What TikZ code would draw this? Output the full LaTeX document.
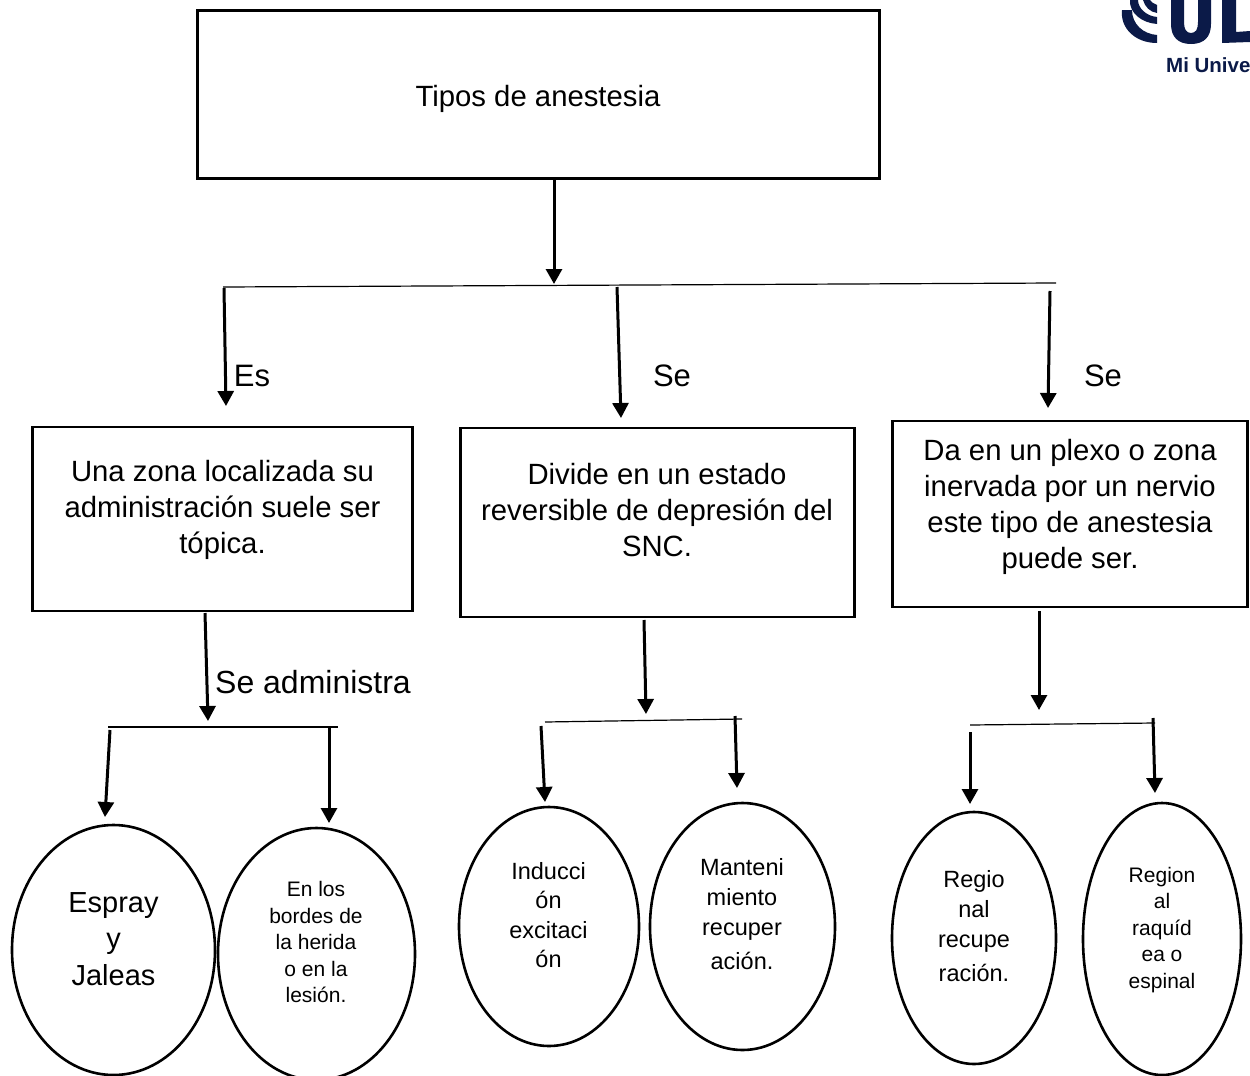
\documentclass[tikz,border=0pt]{standalone}
\usepackage{fontspec}
\setmainfont{Liberation Sans}
\usetikzlibrary{shapes.geometric,arrows.meta}
\definecolor{navy}{HTML}{0B1A48}
\newcommand{\fsz}[2]{\fontsize{#1pt}{#2pt}\selectfont}
\tikzset{
 x=1pt,y=-1pt,
 boxn/.style={draw=black,line width=2.2pt,rectangle,inner sep=0pt},
 ell/.style={draw=black,line width=2.6pt,ellipse,inner sep=0pt,outer sep=0pt},
 lab/.style={inner sep=0pt,align=center,text=black},
 arr/.style={draw=black,line width=3pt,-{Triangle[length=15pt,width=16pt]},shorten >=0pt},
 bar/.style={draw=black,line width=1.2pt},
}
\begin{document}
\begin{tikzpicture}
\useasboundingbox (0,0) rectangle (1250,1076);
\clip (0,0) rectangle (1250,1076);
% logo
\begin{scope}[navy]
\fill (1122,10) .. controls (1120,28) and (1135,43) .. (1157,43) -- (1157,35) .. controls (1143,34) and (1132,24) .. (1132,10) -- cycle;
\fill (1130,0) .. controls (1129,13) and (1142,23) .. (1157,24) -- (1157,17) .. controls (1146,16) and (1138,8) .. (1138,0) -- cycle;
\fill (1143,0) .. controls (1145,7) and (1150,12) .. (1157,13) -- (1157,5) .. controls (1154,4) and (1151,2) .. (1150,0) -- cycle;
\fill (1171,0) -- (1184,0) -- (1184,22) .. controls (1184,29) and (1186,33) .. (1191,33) .. controls (1196,33) and (1198,29) .. (1198,22) -- (1198,0) -- (1211,0) -- (1211,24) .. controls (1211,37) and (1204,44) .. (1191,44) .. controls (1178,44) and (1171,37) .. (1171,24) -- cycle;
\fill (1222,0) -- (1236,0) -- (1236,32) -- (1250,31) -- (1250,42) -- (1222,43) -- cycle;
\end{scope}
\node[lab,anchor=base west,text=navy,font=\fsz{20.5}{22}\bfseries] (logotext) at (1166,72) {Mi Unive};
% boxes
\node[boxn,minimum width=682pt,minimum height=168pt] (top) at (538.5,94.5) {};
\node[boxn,minimum width=380pt,minimum height=184pt] (b1) at (222.5,519) {};
\node[boxn,minimum width=394pt,minimum height=189pt] (b2) at (657.5,522.5) {};
\node[boxn,minimum width=355pt,minimum height=186pt] (b3) at (1070,514) {};
\node[lab,font=\fsz{29.3}{36}] (t0) at (538,99) {Tipos de anestesia};
\node[lab,font=\fsz{29.3}{36}] (t1) at (222.5,510) {Una zona localizada su\\administración suele ser\\tópica.};
\node[lab,font=\fsz{29.3}{36}] (t2) at (657,510) {Divide en un estado\\reversible de depresión del\\SNC.};
\node[lab,font=\fsz{29.3}{36}] (t3) at (1070,507) {Da en un plexo o zona\\inervada por un nervio\\este tipo de anestesia\\puede ser.};
% ellipses
\node[ell,minimum width=203pt,minimum height=250pt] (e1) at (113.5,950) {};
\node[ell,minimum width=197pt,minimum height=252pt] (e2) at (316.5,954) {};
\node[ell,minimum width=180pt,minimum height=239pt] (e3) at (549,926.5) {};
\node[ell,minimum width=185pt,minimum height=247pt] (e4) at (742.5,926.5) {};
\node[ell,minimum width=164pt,minimum height=252pt] (e5) at (974,938) {};
\node[ell,minimum width=158pt,minimum height=272pt] (e6) at (1162,939) {};
\node[lab,font=\fsz{29}{36.5}] (x1) at (113.5,939) {Espray\\y\\Jaleas};
\node[lab,font=\fsz{21}{26.5}] (x2) at (316,942) {En los\\bordes de\\la herida\\o en la\\lesión.};
\node[lab,font=\fsz{23.5}{29.5}] (x3) at (548.5,915) {Inducci\\ón\\excitaci\\ón};
\node[lab,font=\fsz{23.5}{30}] (x4) at (742,914) {Manteni\\miento\\recuper\\[4pt]ación.};
\node[lab,font=\fsz{23.5}{30}] (x5) at (974,926) {Regio\\nal\\recupe\\[4pt]ración.};
\node[lab,font=\fsz{21}{26.5}] (x6) at (1162,930) {Region\\al\\raquíd\\ea o\\espinal};
% labels
\node[lab,font=\fsz{31}{36}] (l1) at (252,376) {Es};
\node[lab,font=\fsz{31}{36}] (l2) at (672,376) {Se};
\node[lab,font=\fsz{31}{36}] (l3) at (1103,376) {Se};
\node[lab,font=\fsz{32}{36}] (l4) at (313,682) {Se administra};
% bar coordinates
\coordinate (A0) at (223,287); \coordinate (A1) at (1056,283);
\coordinate (B0) at (108,727); \coordinate (B1) at (338,727);
\coordinate (C0) at (545,722); \coordinate (C1) at (742,719);
\coordinate (D0) at (970,725); \coordinate (D1) at (1155,723);
\draw[bar] (A0) -- (A1);
\draw[bar] (B0) -- (B1);
\draw[bar] (C0) -- (C1);
\draw[bar] (D0) -- (D1);
% arrows
\coordinate (a1s) at (554,180); \coordinate (a1e) at (554,284);
\coordinate (a2s) at (224,288); \coordinate (a2e) at (226,406);
\coordinate (a3s) at (617,287); \coordinate (a3e) at (621,418);
\coordinate (a4s) at (1050,291); \coordinate (a4e) at (1048,408);
\coordinate (a5s) at (205,613); \coordinate (a5e) at (208,721);
\coordinate (a6s) at (110,730); \coordinate (a6e) at (105,817);
\coordinate (a7s) at (329,727); \coordinate (a7e) at (329,823);
\coordinate (a8s) at (644,620); \coordinate (a8e) at (646,714);
\coordinate (a9s) at (541,726); \coordinate (a9e) at (545,802);
\coordinate (a10s) at (735,716); \coordinate (a10e) at (737,788);
\coordinate (a11s) at (1039,611); \coordinate (a11e) at (1039,710);
\coordinate (a12s) at (970,732); \coordinate (a12e) at (970,804);
\coordinate (a13s) at (1153,718); \coordinate (a13e) at (1155,793);
\foreach \i in {1,...,13} {\draw[arr] (a\i s) -- (a\i e);}
\end{tikzpicture}
\end{document}
